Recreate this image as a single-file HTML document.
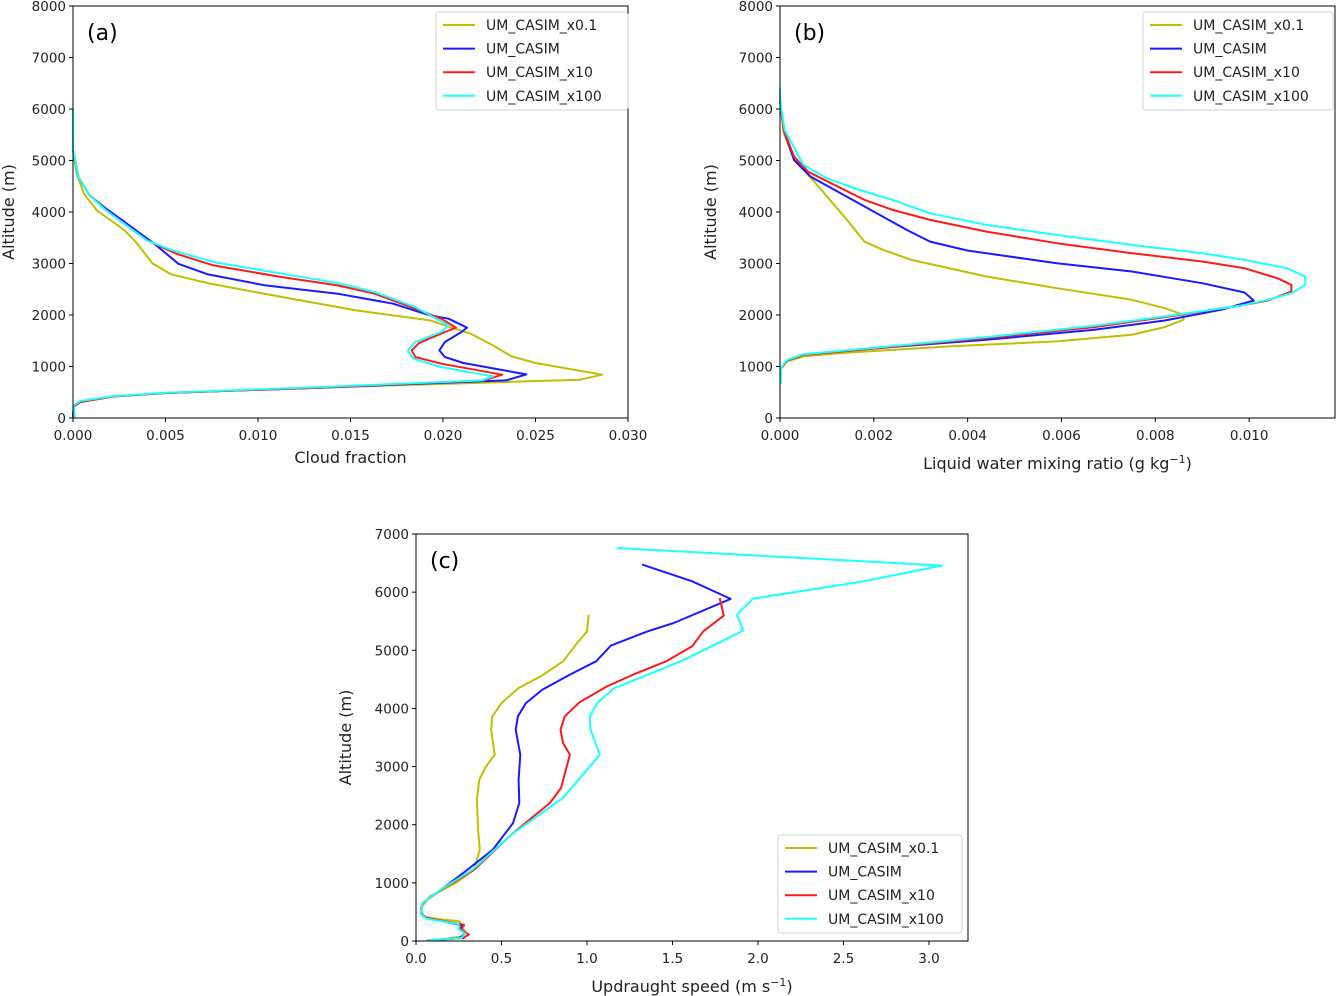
<!DOCTYPE html>
<html><head><meta charset="utf-8"><style>
body{margin:0;background:#fff;}
svg{display:block;font-family:"DejaVu Sans","Liberation Sans",sans-serif;}
</style></head><body>
<svg id="fig" width="1336" height="996" viewBox="0 0 1336 996"></svg>
<script>
const seriesNames = ["UM_CASIM_x0.1","UM_CASIM","UM_CASIM_x10","UM_CASIM_x100"];
const seriesColors = ["#bfbf00","#1a1aff","#ff1a1a","#1affff"];
// Panel (a): cloud fraction [value, altitude]
const cfX01 = [[0,6000],[0,5200],[0.0002,4740],[0.0006,4350],[0.0013,4030],[0.0028,3640],[0.0034,3415],[0.0043,3000],[0.0053,2790],[0.0074,2610],[0.0113,2350],[0.0153,2090],[0.0193,1895],[0.0201,1800],[0.0215,1635],[0.0227,1410],[0.0237,1197],[0.0250,1067],[0.0286,841],[0.0274,744],[0.0221,686],[0.0133,589],[0.0050,485],[0.0022,420],[0.0004,310],[0.00004,226],[0,20]];
const cfX1 = [[0,6000],[0,5200],[0.0003,4677],[0.0009,4321],[0.0018,4062],[0.0028,3803],[0.0044,3383],[0.0057,2995],[0.0073,2788],[0.0104,2574],[0.0143,2413],[0.0173,2219],[0.0193,1992],[0.0203,1928],[0.0213,1753],[0.0210,1669],[0.0201,1475],[0.0198,1313],[0.0201,1184],[0.0211,1067],[0.0245,847],[0.0234,731],[0.0221,712],[0.0133,589],[0.0050,485],[0.0022,420],[0.0004,310],[0.00004,226],[0,20]];
const cfX10 = [[0,6000],[0,5200],[0.0003,4677],[0.0009,4321],[0.0018,4030],[0.0040,3448],[0.0056,3189],[0.0076,2963],[0.0113,2736],[0.0143,2574],[0.0163,2413],[0.0185,2122],[0.0199,1928],[0.0207,1753],[0.0201,1669],[0.0187,1455],[0.0183,1313],[0.0185,1184],[0.0199,1054],[0.0232,841],[0.0222,731],[0.0133,589],[0.0050,485],[0.0022,420],[0.0004,310],[0.00004,226],[0,20]];
const cfX100 = [[0,6000],[0,5200],[0.0003,4677],[0.0009,4321],[0.0018,4030],[0.0040,3448],[0.0054,3254],[0.0076,3027],[0.0113,2801],[0.0145,2607],[0.0163,2445],[0.0185,2154],[0.0203,1798],[0.0199,1669],[0.0185,1475],[0.0181,1313],[0.0184,1151],[0.0199,990],[0.0227,809],[0.0221,731],[0.0133,600],[0.0050,490],[0.0022,425],[0.0004,330],[0.00004,245],[0.0001,0]];
// Panel (b): liquid water mixing ratio
const lwX01 = [[0,6300],[0,6173],[0.00008,5527],[0.0003,5010],[0.0007,4622],[0.0014,3878],[0.0018,3426],[0.0022,3264],[0.0028,3070],[0.0044,2747],[0.0059,2521],[0.0075,2295],[0.0082,2133],[0.0086,2004],[0.0086,1907],[0.0082,1765],[0.0075,1616],[0.0059,1487],[0.0036,1390],[0.0013,1260],[0.0005,1196],[0.00015,1099],[0.00002,950]];
const lwX1 = [[0,6300],[0,6173],[0.00008,5591],[0.0003,5010],[0.00065,4687],[0.0011,4460],[0.0020,4008],[0.0027,3652],[0.0032,3426],[0.0040,3251],[0.0059,3006],[0.0075,2844],[0.0090,2618],[0.0099,2437],[0.0101,2282],[0.0094,2101],[0.0082,1894],[0.0067,1713],[0.0044,1519],[0.0021,1357],[0.0005,1228],[0.00015,1118],[0.00002,963]];
const lwX10 = [[0,6300],[0,6173],[0.00008,5591],[0.0003,5074],[0.0006,4783],[0.0018,4234],[0.0024,4040],[0.0032,3846],[0.0044,3620],[0.0059,3394],[0.0075,3200],[0.0090,3038],[0.0099,2909],[0.0106,2715],[0.0109,2586],[0.0109,2456],[0.0104,2282],[0.0098,2178],[0.0082,1959],[0.0067,1765],[0.0044,1551],[0.0021,1357],[0.0005,1228],[0.00015,1118],[0.00002,963]];
const lwX100 = [[0,6400],[0,6173],[0.0001,5591],[0.0005,4913],[0.0010,4654],[0.0017,4428],[0.0024,4234],[0.0032,3975],[0.0044,3749],[0.0059,3555],[0.0075,3361],[0.0090,3200],[0.0099,3070],[0.0108,2909],[0.0112,2747],[0.0112,2586],[0.0109,2424],[0.0104,2295],[0.0098,2178],[0.0082,1972],[0.0067,1791],[0.0044,1571],[0.0021,1370],[0.0005,1238],[0.00015,1128],[0.00002,968],[0.00002,666]];
// Panel (c): updraught speed
const upX01 = [[1.01,5614],[1.00,5327],[0.935,5097],[0.86,4811],[0.73,4553],[0.60,4352],[0.50,4094],[0.445,3853],[0.44,3635],[0.46,3205],[0.41,3005],[0.37,2775],[0.356,2431],[0.363,1915],[0.373,1571],[0.34,1227],[0.233,998],[0.082,768],[0.028,568],[0.039,424],[0.125,378],[0.255,338],[0.265,252],[0.287,166],[0.276,80],[0.168,34],[0.06,11]];
const upX1 = [[1.323,6473],[1.615,6187],[1.84,5883],[1.507,5470],[1.355,5327],[1.14,5080],[1.053,4811],[0.90,4581],[0.74,4323],[0.643,4094],[0.596,3865],[0.583,3635],[0.61,3205],[0.60,2775],[0.604,2374],[0.568,2030],[0.449,1571],[0.276,1170],[0.147,883],[0.039,654],[0.028,482],[0.06,396],[0.28,264],[0.25,206],[0.287,126],[0.255,52],[0.082,11]];
const upX10 = [[1.776,5900],[1.80,5596],[1.68,5327],[1.615,5069],[1.463,4811],[1.27,4581],[1.118,4381],[0.956,4106],[0.87,3865],[0.845,3635],[0.86,3406],[0.90,3205],[0.848,2632],[0.783,2374],[0.557,1829],[0.341,1227],[0.147,883],[0.039,654],[0.028,482],[0.06,396],[0.28,281],[0.265,195],[0.309,109],[0.276,52],[0.082,11]];
const upX100 = [[1.176,6760],[3.076,6456],[2.586,6170],[1.97,5889],[1.878,5614],[1.912,5338],[1.787,5155],[1.56,4828],[1.334,4553],[1.161,4352],[1.064,4106],[1.015,3865],[1.021,3635],[1.075,3205],[0.967,2833],[0.859,2460],[0.557,1829],[0.330,1227],[0.147,890],[0.039,654],[0.028,472],[0.06,385],[0.25,290],[0.25,205],[0.287,126],[0.265,52],[0.07,11]];
const ticksA = ["0.000","0.005","0.010","0.015","0.020","0.025","0.030"];
const ticksB = ["0.000","0.002","0.004","0.006","0.008","0.010"];
const ticksC = ["0.0","0.5","1.0","1.5","2.0","2.5","3.0"];
const yTicksAB = [0,1000,2000,3000,4000,5000,6000,7000,8000];
const yTicksC = [0,1000,2000,3000,4000,5000,6000,7000];

const NS="http://www.w3.org/2000/svg";
const fig=document.getElementById('fig');
function mk(tag,attrs,parent){const e=document.createElementNS(NS,tag);for(const k in attrs)e.setAttribute(k,attrs[k]);(parent||fig).appendChild(e);return e;}

function panel(opt){
  const g=mk('g',{});
  
  
  const sx=v=>opt.L+(v-opt.xmin)/(opt.xmax-opt.xmin)*(opt.R-opt.L);
  const sy=v=>opt.B-(v-opt.ymin)/(opt.ymax-opt.ymin)*(opt.B-opt.T);
  opt.series.forEach((s,i)=>{
    const p=mk('polyline',{points:s.map(d=>sx(d[0]).toFixed(1)+','+sy(d[1]).toFixed(1)).join(' '),fill:'none',stroke:seriesColors[i],'stroke-width':2,'stroke-linejoin':'round'},g);
    
    
  });
  const fr=mk('rect',{x:opt.L,y:opt.T,width:opt.R-opt.L,height:opt.B-opt.T,fill:'none',stroke:'#000','stroke-width':1},g);
  
  
  opt.xticks.forEach(t=>{
    const x=sx(parseFloat(t));
    mk('line',{x1:x,x2:x,y1:opt.B,y2:opt.B+4,stroke:'#000'},g);
    const tx=mk('text',{x:x,y:opt.B+22,'text-anchor':'middle','font-size':13.5,fill:'#222'},g);
    tx.textContent=t;
    
    
  });
  opt.yticks.forEach(t=>{
    const y=sy(t);
    mk('line',{x1:opt.L-4,x2:opt.L,y1:y,y2:y,stroke:'#000'},g);
    const tx=mk('text',{x:opt.L-7,y:y+5,'text-anchor':'end','font-size':13.5,fill:'#222'},g);
    tx.textContent=t;
    
    
  });
  const xl=mk('text',{x:(opt.L+opt.R)/2,y:opt.xlY,'text-anchor':'middle','font-size':16,fill:'#222'},g);
  xl.innerHTML=opt.xlabel;
  
  
  const yc=(opt.T+opt.B)/2;
  const yl=mk('text',{x:opt.ylX,y:yc,'text-anchor':'middle','font-size':16,fill:'#222',transform:`rotate(-90 ${opt.ylX} ${yc})`},g);
  yl.textContent='Altitude (m)';
  
  
  const pl=mk('text',{x:opt.L+14,y:opt.T+34,'font-size':22,fill:'#000'},g);
  pl.textContent=opt.label;
  
  
  const lg=mk('g',{},g);
  
  
  mk('rect',{x:opt.lgX,y:opt.lgY,width:opt.lgW,height:98,rx:3,fill:'#fff','fill-opacity':0.85,stroke:'#d0d0d0'},lg);
  seriesNames.forEach((n,i)=>{
    const yy=opt.lgY+13+i*23.6;
    mk('line',{x1:opt.lgX+7,x2:opt.lgX+39,y1:yy,y2:yy,stroke:seriesColors[i],'stroke-width':2},lg);
    const t=mk('text',{x:opt.lgX+50,y:yy+5,'font-size':14,fill:'#222'},lg);
    t.textContent=n;
    
    
  });
}
panel({name:'panel-a',label:'(a)',L:73,R:628,T:6,B:418,xmin:0,xmax:0.030,ymin:0,ymax:8000,series:[cfX01,cfX1,cfX10,cfX100],xticks:ticksA,yticks:yTicksAB,xlabel:'Cloud fraction',xlY:463,ylX:14,lgX:436,lgY:12,lgW:192});
panel({name:'panel-b',label:'(b)',L:780,R:1335,T:6,B:418,xmin:0,xmax:0.01183,ymin:0,ymax:8000,series:[lwX01,lwX1,lwX10,lwX100],xticks:ticksB,yticks:yTicksAB,xlabel:'Liquid water mixing ratio (g kg<tspan dy="-6" font-size="11">−1</tspan><tspan dy="6">)</tspan>',xlY:469,ylX:716,lgX:1143,lgY:12,lgW:190});
panel({name:'panel-c',label:'(c)',L:416,R:968,T:534,B:941,xmin:0,xmax:3.228,ymin:0,ymax:7000,series:[upX01,upX1,upX10,upX100],xticks:ticksC,yticks:yTicksC,xlabel:'Updraught speed (m s<tspan dy="-6" font-size="11">−1</tspan><tspan dy="6">)</tspan>',xlY:992,ylX:351,lgX:778,lgY:835,lgW:184});
</script>
</body></html>
